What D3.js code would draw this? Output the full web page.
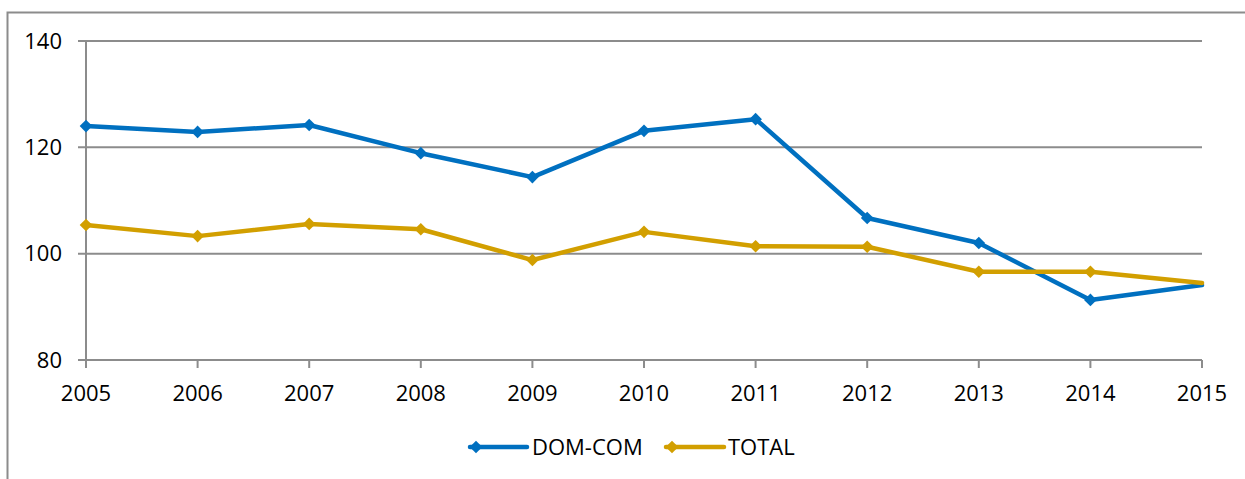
<!DOCTYPE html>
<html>
<head>
<meta charset="utf-8">
<script src="https://cdn.jsdelivr.net/npm/d3@7"></script>
<style>
  body { margin: 0; background: #fff; }
  text { font-family: "Open Sans", sans-serif; fill: #000; }
</style>
</head>
<body>
<svg id="chart" width="1245" height="479"></svg>
<script>
const years = [2005, 2006, 2007, 2008, 2009, 2010, 2011, 2012, 2013, 2014, 2015];
const domCom = [124.0, 122.9, 124.2, 118.9, 114.4, 123.1, 125.3, 106.7, 102.0, 91.3, 94.1];
const total = [105.4, 103.3, 105.6, 104.6, 98.8, 104.1, 101.4, 101.3, 96.6, 96.6, 94.5];
const yTicks = [80, 100, 120, 140];
const seriesNames = ["DOM-COM", "TOTAL"];
const colors = ["#0070c0", "#d29f00"];

const svg = d3.select("#chart");
const grey = "#8c8c8c";

// outer frame
svg.append("rect")
    .attr("x", 7.5).attr("y", 12.5)
    .attr("width", 1260).attr("height", 500)
    .attr("fill", "none").attr("stroke", grey).attr("stroke-width", 2);

const x = d3.scaleLinear().domain([2005, 2015]).range([86, 1202]);
const y = d3.scaleLinear().domain([80, 140]).range([360, 41]);

// gridlines
svg.append("g")
    .selectAll("line")
    .data(yTicks)
    .join("line")
    .attr("x1", 78).attr("x2", x(2015))
    .attr("y1", d => y(d)).attr("y2", d => y(d))
    .attr("stroke", grey).attr("stroke-width", 2);

// y axis line
svg.append("line")
    .attr("x1", 86).attr("x2", 86)
    .attr("y1", y(140)).attr("y2", y(80))
    .attr("stroke", grey).attr("stroke-width", 2);

// x ticks
svg.append("g")
    .selectAll("line")
    .data(years)
    .join("line")
    .attr("x1", d => x(d)).attr("x2", d => x(d))
    .attr("y1", y(80)).attr("y2", y(80) + 8)
    .attr("stroke", grey).attr("stroke-width", 2);

// y labels
svg.append("g")
    .selectAll("text")
    .data(yTicks)
    .join("text")
    .attr("x", 62).attr("y", d => y(d))
    .attr("dy", "0.35em")
    .attr("text-anchor", "end")
    .attr("font-size", 22)
    .text(d => d);

// x labels
svg.append("g")
    .selectAll("text")
    .data(years)
    .join("text")
    .attr("x", d => x(d)).attr("y", 393)
    .attr("dy", "0.35em")
    .attr("text-anchor", "middle")
    .attr("font-size", 22)
    .text(d => d);

const line = d3.line()
    .x((d, i) => x(years[i]))
    .y(d => y(d));

// excel-style diamond: square turned 45deg
const diamond = d3.symbol().type(d3.symbolSquare).size(80);

[domCom, total].forEach((vals, si) => {
    svg.append("path")
        .datum(vals)
        .attr("d", line)
        .attr("fill", "none")
        .attr("stroke", colors[si])
        .attr("stroke-width", 4.5)
        .attr("stroke-linejoin", "round")
        .attr("stroke-linecap", "round");

    svg.append("g")
        .selectAll("path")
        .data(vals.slice(0, vals.length - 1))
        .join("path")
        .attr("d", diamond)
        .attr("transform", (d, i) => `translate(${x(years[i])},${y(d)}) rotate(45)`)
        .attr("fill", colors[si]);
});

// legend
const legendItems = [
    { x1: 470, x2: 527, tx: 532 },
    { x1: 666, x2: 724, tx: 728 }
];
const legend = svg.append("g");
legendItems.forEach((it, i) => {
    legend.append("line")
        .attr("x1", it.x1).attr("x2", it.x2)
        .attr("y1", 447).attr("y2", 447)
        .attr("stroke", colors[i]).attr("stroke-width", 4.5)
        .attr("stroke-linecap", "round");
    legend.append("path")
        .attr("d", diamond)
        .attr("transform", `translate(${it.x1 + 6},447) rotate(45)`)
        .attr("fill", colors[i]);
    legend.append("text")
        .attr("x", it.tx).attr("y", 447)
        .attr("dy", "0.35em")
        .attr("font-size", 22)
        .text(seriesNames[i]);
});
</script>
</body>
</html>
